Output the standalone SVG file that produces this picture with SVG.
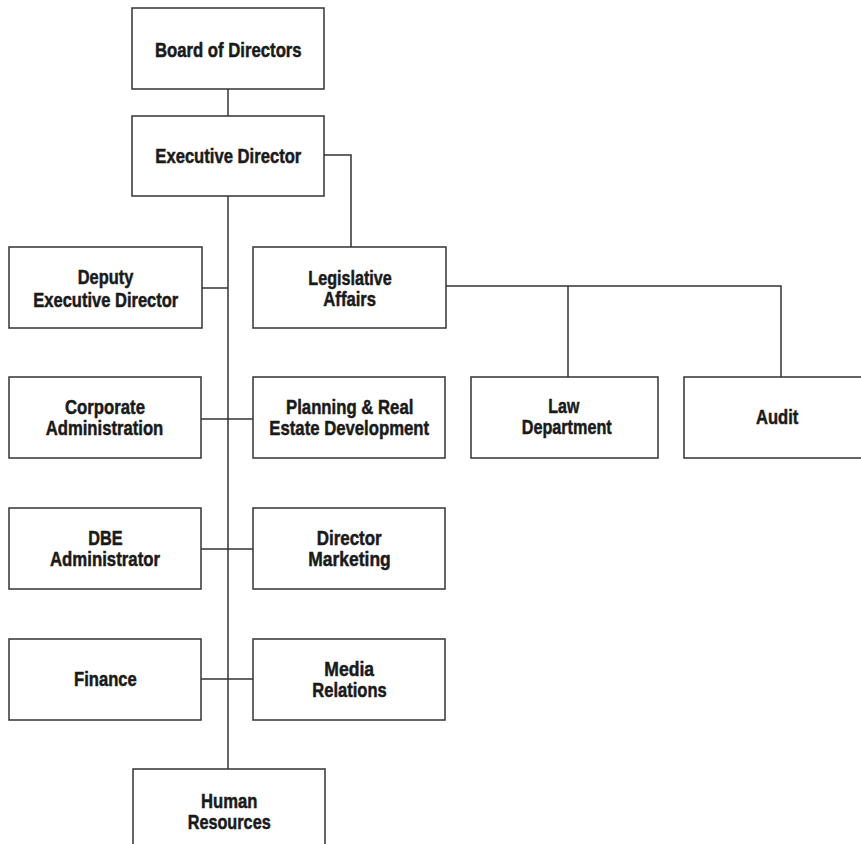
<svg xmlns="http://www.w3.org/2000/svg" width="861" height="844" viewBox="0 0 861 844">
<style>
.box{fill:#fff;stroke:#333;stroke-width:1.5}
.lbl{font-family:"Liberation Sans",Arial,sans-serif;font-weight:bold;font-size:20.5px;fill:#1a1a1a;stroke:#1a1a1a;stroke-width:0.5;text-anchor:middle}
.ln{fill:none;stroke:#333;stroke-width:1.5}
</style>
<rect width="861" height="844" fill="#fff"/>
<g id="connectors">
<line class="ln" x1="228" y1="89" x2="228" y2="116"/>
<line class="ln" x1="228" y1="196" x2="228" y2="769"/>
<polyline class="ln" points="324,155 351,155 351,247"/>
<line class="ln" x1="202" y1="288" x2="228" y2="288"/>
<line class="ln" x1="201" y1="419" x2="253" y2="419"/>
<line class="ln" x1="201" y1="549" x2="253" y2="549"/>
<line class="ln" x1="201" y1="679" x2="253" y2="679"/>
<polyline class="ln" points="446,286 781,286 781,377"/>
<line class="ln" x1="568" y1="286" x2="568" y2="377"/>
</g>
<g id="board"><rect class="box" x="132" y="8" width="192" height="81"/><text class="lbl" x="228.3" y="57" textLength="146.7" lengthAdjust="spacingAndGlyphs">Board of Directors</text></g>
<g id="exec"><rect class="box" x="132" y="116" width="192" height="80"/><text class="lbl" x="228.3" y="163" textLength="146" lengthAdjust="spacingAndGlyphs">Executive Director</text></g>
<g id="deputy"><rect class="box" x="9" y="247" width="193" height="81"/><text class="lbl" x="105.5" y="284" textLength="55.6" lengthAdjust="spacingAndGlyphs">Deputy</text><text class="lbl" x="105.8" y="306.5" textLength="145" lengthAdjust="spacingAndGlyphs">Executive Director</text></g>
<g id="legislative"><rect class="box" x="253" y="247" width="193" height="81"/><text class="lbl" x="350" y="284.5" textLength="83.4" lengthAdjust="spacingAndGlyphs">Legislative</text><text class="lbl" x="349.7" y="305.5" textLength="52.7" lengthAdjust="spacingAndGlyphs">Affairs</text></g>
<g id="corporate"><rect class="box" x="9" y="377" width="192" height="81"/><text class="lbl" x="105" y="414" textLength="80" lengthAdjust="spacingAndGlyphs">Corporate</text><text class="lbl" x="104.5" y="435" textLength="117.6" lengthAdjust="spacingAndGlyphs">Administration</text></g>
<g id="planning"><rect class="box" x="253" y="377" width="192" height="81"/><text class="lbl" x="349.7" y="414" textLength="127.3" lengthAdjust="spacingAndGlyphs">Planning &amp; Real</text><text class="lbl" x="349.2" y="435" textLength="159.7" lengthAdjust="spacingAndGlyphs">Estate Development</text></g>
<g id="law"><rect class="box" x="471" y="377" width="187" height="81"/><text class="lbl" x="563.8" y="412.5" textLength="31" lengthAdjust="spacingAndGlyphs">Law</text><text class="lbl" x="566.7" y="433.5" textLength="90" lengthAdjust="spacingAndGlyphs">Department</text></g>
<g id="audit"><rect class="box" x="684" y="377" width="192" height="81"/><text class="lbl" x="777.2" y="423.5" textLength="42.3" lengthAdjust="spacingAndGlyphs">Audit</text></g>
<g id="dbe"><rect class="box" x="9" y="508" width="192" height="81"/><text class="lbl" x="105.5" y="544.5" textLength="34.3" lengthAdjust="spacingAndGlyphs">DBE</text><text class="lbl" x="105" y="565.5" textLength="110" lengthAdjust="spacingAndGlyphs">Administrator</text></g>
<g id="marketing"><rect class="box" x="253" y="508" width="192" height="81"/><text class="lbl" x="349.2" y="544.5" textLength="65" lengthAdjust="spacingAndGlyphs">Director</text><text class="lbl" x="349.5" y="565.5" textLength="82.4" lengthAdjust="spacingAndGlyphs">Marketing</text></g>
<g id="finance"><rect class="box" x="9" y="639" width="192" height="81"/><text class="lbl" x="105.4" y="686" textLength="62.7" lengthAdjust="spacingAndGlyphs">Finance</text></g>
<g id="media"><rect class="box" x="253" y="639" width="192" height="81"/><text class="lbl" x="349.2" y="675.5" textLength="49.7" lengthAdjust="spacingAndGlyphs">Media</text><text class="lbl" x="349.5" y="696.5" textLength="74.4" lengthAdjust="spacingAndGlyphs">Relations</text></g>
<g id="hr"><rect class="box" x="133" y="769" width="192" height="81"/><text class="lbl" x="229.2" y="808.3" textLength="56.3" lengthAdjust="spacingAndGlyphs">Human</text><text class="lbl" x="229.2" y="829" textLength="83" lengthAdjust="spacingAndGlyphs">Resources</text></g>
</svg>
